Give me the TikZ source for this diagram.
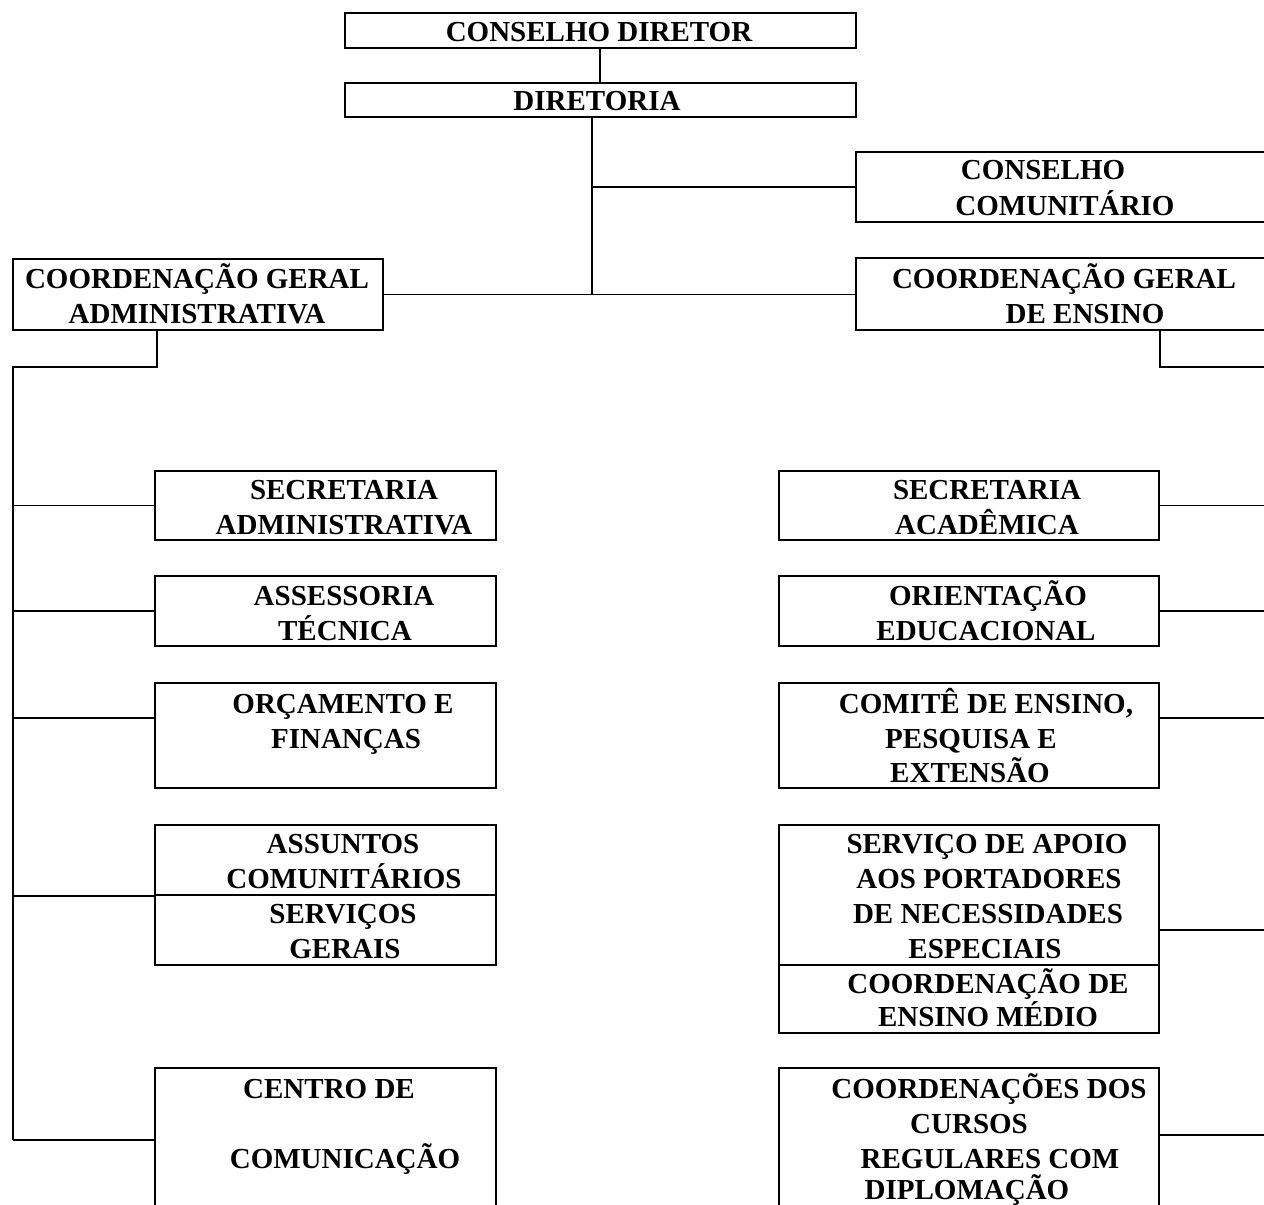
\documentclass[tikz,border=0pt]{standalone}
\usepackage{fontspec}
\setmainfont{Liberation Serif}
\usetikzlibrary{fit}
\begin{document}
\begin{tikzpicture}[x=0.5pt,y=-0.5pt,
  box/.style={draw, line width=1pt, inner sep=0pt},
  lbl/.style={font=\bfseries\fontsize{14.5}{17.5}\selectfont, anchor=base, inner sep=0pt},
  link/.style={line width=0.85pt}]
\useasboundingbox (0,0) rectangle (1264,1205);
\clip (0,0) rectangle (1264,1205);
\fill[white] (0,0) rectangle (1264,1205);
% boxes
\node[box, fit={(345,13) (856,48)}] (cd) {};
\node[box, fit={(345,83) (856,117)}] (dir) {};
\node[box, fit={(856,152) (1275,222)}] (cc) {};
\node[box, fit={(856,258) (1275,330)}] (cge) {};
\node[box, fit={(13,259) (383,330)}] (cga) {};
\node[box, fit={(155,471) (496,540)}] (l1) {};
\node[box, fit={(155,576) (496,646)}] (l2) {};
\node[box, fit={(155,683) (496,788)}] (l3) {};
\node[box, fit={(155,825) (496,895)}] (l4a) {};
\node[box, fit={(155,895) (496,965)}] (l4b) {};
\node[box, fit={(155,1068) (496,1220)}] (l5) {};
\node[box, fit={(779,471) (1159,540)}] (r1) {};
\node[box, fit={(779,576) (1159,646)}] (r2) {};
\node[box, fit={(779,683) (1159,788)}] (r3) {};
\node[box, fit={(779,825) (1159,965)}] (r4a) {};
\node[box, fit={(779,965) (1159,1033)}] (r4b) {};
\node[box, fit={(779,1068) (1159,1220)}] (r5) {};
% labels
\node[lbl] (t1) at (599,41) {CONSELHO DIRETOR};
\node[lbl] (t2) at (597,110) {DIRETORIA};
\node[lbl] (t3) at (1043,179) {CONSELHO};
\node[lbl] (t4) at (1065,215) {COMUNITÁRIO};
\node[lbl] (t5) at (1064,288) {COORDENAÇÃO GERAL};
\node[lbl] (t6) at (1085,323) {DE ENSINO};
\node[lbl] (t7) at (197,288) {COORDENAÇÃO GERAL};
\node[lbl] (t8) at (197,323) {ADMINISTRATIVA};
\node[lbl] (t9) at (344,499) {SECRETARIA};
\node[lbl] (t10) at (344,534) {ADMINISTRATIVA};
\node[lbl] (t11) at (344,605) {ASSESSORIA};
\node[lbl] (t12) at (345,640) {TÉCNICA};
\node[lbl] (t13) at (343,713) {ORÇAMENTO E};
\node[lbl] (t14) at (346,748) {FINANÇAS};
\node[lbl] (t15) at (343,853) {ASSUNTOS};
\node[lbl] (t16) at (344,888) {COMUNITÁRIOS};
\node[lbl] (t17) at (343,923) {SERVIÇOS};
\node[lbl] (t18) at (345,958) {GERAIS};
\node[lbl] (t19) at (329,1098) {CENTRO DE};
\node[lbl] (t20) at (345,1168) {COMUNICAÇÃO};
\node[lbl] (t21) at (987,499) {SECRETARIA};
\node[lbl] (t22) at (987,534) {ACADÊMICA};
\node[lbl] (t23) at (988,605) {ORIENTAÇÃO};
\node[lbl] (t24) at (986,640) {EDUCACIONAL};
\node[lbl] (t25) at (986,713) {COMITÊ DE ENSINO,};
\node[lbl] (t26) at (971,748) {PESQUISA E};
\node[lbl] (t27) at (970,782) {EXTENSÃO};
\node[lbl] (t28) at (987,853) {SERVIÇO DE APOIO};
\node[lbl] (t29) at (989,888) {AOS PORTADORES};
\node[lbl] (t30) at (988,923) {DE NECESSIDADES};
\node[lbl] (t31) at (985,958) {ESPECIAIS};
\node[lbl] (t32) at (988,993) {COORDENAÇÃO DE};
\node[lbl] (t33) at (988,1026) {ENSINO MÉDIO};
\node[lbl] (t34) at (989,1098) {COORDENAÇÕES DOS};
\node[lbl] (t35) at (969,1133) {CURSOS};
\node[lbl] (t36) at (990,1168) {REGULARES COM};
\node[lbl] (t37) at (967,1199) {DIPLOMAÇÃO};
% connector coordinates
\coordinate (xa) at (600,0);
\coordinate (xb) at (592,0);
\coordinate (lb1) at (157,367);
\coordinate (lb2) at (13,367);
\coordinate (lb3) at (13,1140);
\coordinate (rb1) at (1160,367);
\coordinate (rb2) at (1270,367);
\coordinate (y3l) at (0,718);
\coordinate (y3r) at (0,718);
\coordinate (y4r) at (0,930);
\coordinate (y5r) at (0,1135);
% connectors
\draw[link] (xa |- cd.south) -- (xa |- dir.north);
\draw[link] (xb |- dir.south) -- (xb |- cga.east);
\draw[link] (cga.east) -- (cge.west |- cga.east);
\draw[link] (xb |- cc.west) -- (cc.west);
\draw[link] (lb1 |- cga.south) -- (lb1) -- (lb2) -- (lb3);
\draw[link] (lb2 |- l1.west) -- (l1.west);
\draw[link] (lb2 |- l2.west) -- (l2.west);
\draw[link] (lb2 |- y3l) -- (l3.west |- y3l);
\draw[link] (lb2 |- l4a.south) -- (l4a.south west);
\draw[link] (lb3) -- (l5.west |- lb3);
\draw[link] (rb1 |- cge.south) -- (rb1) -- (rb2);
\draw[link] (r1.east) -- (rb2 |- r1.east);
\draw[link] (r2.east) -- (rb2 |- r2.east);
\draw[link] (r3.east |- y3r) -- (rb2 |- y3r);
\draw[link] (r4a.east |- y4r) -- (rb2 |- y4r);
\draw[link] (r5.east |- y5r) -- (rb2 |- y5r);
\end{tikzpicture}
\end{document}
